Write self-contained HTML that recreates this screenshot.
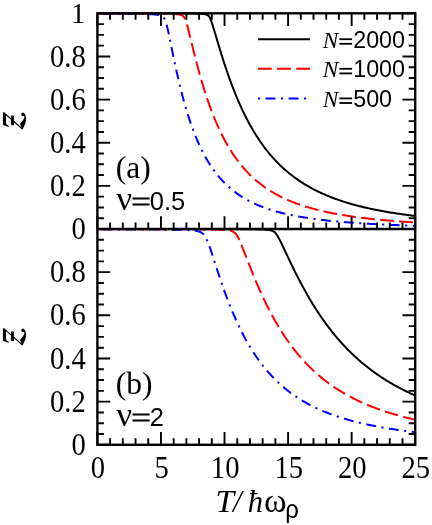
<!DOCTYPE html>
<html><head><meta charset="utf-8"><title>fugacity</title>
<style>html,body{margin:0;padding:0;background:#fff;}body{width:432px;height:525px;overflow:hidden;font-family:"Liberation Sans",sans-serif;}svg{display:block;will-change:transform;}</style>
</head><body>
<svg width="432" height="525" viewBox="0 0 432 525">
<rect x="0" y="0" width="432" height="525" fill="#fff"/>
<defs><clipPath id="ca"><rect x="97.4" y="12.100000000000001" width="318.79999999999995" height="218.1"/></clipPath><clipPath id="cb"><rect x="97.4" y="227.8" width="318.79999999999995" height="218.20000000000002"/></clipPath></defs>
<g clip-path="url(#ca)" fill="none" stroke-width="2.0" stroke-linejoin="round">
<path d="M97.40,13.41 L180.03,13.49 L180.66,13.49 L181.30,13.49 L181.93,13.50 L182.57,13.50 L183.21,13.50 L183.84,13.51 L184.48,13.51 L185.11,13.52 L185.75,13.52 L186.38,13.53 L187.02,13.53 L187.66,13.54 L188.29,13.54 L188.93,13.55 L189.56,13.55 L190.20,13.56 L190.83,13.57 L191.47,13.58 L192.10,13.59 L192.74,13.59 L193.38,13.60 L194.01,13.61 L194.65,13.63 L195.28,13.64 L195.92,13.65 L196.55,13.67 L197.19,13.68 L197.82,13.70 L198.46,13.72 L199.10,13.75 L199.73,13.77 L200.37,13.80 L201.00,13.83 L201.64,13.87 L202.27,13.92 L202.91,13.97 L203.55,14.03 L204.18,14.11 L204.82,14.20 L205.45,14.32 L206.09,14.47 L206.72,14.68 L207.36,14.95 L207.99,15.34 L208.63,15.91 L209.27,16.71 L209.90,17.81 L210.54,19.20 L211.17,20.85 L211.81,22.67 L212.44,24.62 L213.08,26.65 L213.71,28.73 L214.35,30.84 L214.99,32.97 L215.62,35.12 L216.26,37.26 L216.89,39.41 L217.53,41.54 L218.16,43.67 L218.80,45.79 L219.44,47.89 L220.07,49.98 L220.71,52.05 L221.34,54.10 L221.98,56.14 L222.61,58.15 L223.25,60.14 L223.88,62.12 L224.52,64.07 L225.16,66.00 L225.79,67.90 L226.43,69.79 L227.06,71.65 L227.70,73.49 L228.33,75.31 L228.97,77.11 L229.60,78.88 L230.24,80.64 L230.88,82.37 L231.51,84.07 L232.15,85.76 L232.78,87.42 L233.42,89.07 L234.05,90.69 L234.69,92.29 L235.33,93.86 L235.96,95.42 L236.60,96.96 L237.23,98.48 L237.87,99.97 L238.50,101.45 L239.14,102.90 L239.77,104.34 L240.41,105.76 L241.05,107.16 L241.68,108.54 L242.32,109.90 L242.95,111.24 L243.59,112.56 L244.22,113.87 L244.86,115.16 L245.49,116.43 L246.13,117.68 L246.77,118.92 L247.40,120.14 L248.04,121.35 L248.67,122.53 L249.31,123.70 L249.94,124.86 L250.58,126.00 L251.22,127.12 L251.85,128.23 L252.49,129.33 L253.12,130.41 L253.76,131.47 L254.39,132.52 L255.03,133.56 L255.66,134.58 L256.30,135.59 L257.57,137.57 L258.90,139.57 L260.22,141.52 L261.55,143.42 L262.87,145.27 L264.19,147.06 L265.52,148.81 L266.84,150.51 L268.17,152.16 L269.49,153.77 L270.82,155.34 L272.14,156.86 L273.47,158.35 L274.79,159.79 L276.12,161.20 L277.44,162.57 L278.76,163.91 L280.09,165.21 L281.41,166.48 L282.74,167.71 L284.06,168.92 L285.39,170.09 L286.71,171.23 L288.04,172.35 L289.36,173.44 L290.69,174.50 L292.01,175.53 L293.34,176.54 L294.66,177.53 L295.98,178.49 L297.31,179.42 L298.63,180.34 L299.96,181.23 L301.28,182.10 L302.61,182.95 L303.93,183.79 L305.26,184.60 L306.58,185.39 L307.91,186.16 L309.23,186.92 L310.56,187.66 L311.88,188.38 L313.20,189.09 L314.53,189.78 L315.85,190.45 L317.18,191.11 L318.50,191.75 L319.83,192.38 L321.15,193.00 L322.48,193.60 L323.80,194.19 L325.13,194.77 L326.45,195.33 L327.78,195.88 L329.10,196.42 L330.42,196.95 L331.75,197.47 L333.07,197.97 L334.40,198.47 L335.72,198.95 L337.05,199.43 L338.37,199.90 L339.70,200.35 L341.02,200.80 L342.35,201.23 L343.67,201.66 L345.00,202.08 L346.32,202.49 L347.64,202.90 L348.97,203.29 L350.29,203.68 L351.62,204.06 L352.94,204.43 L354.27,204.79 L355.59,205.15 L356.92,205.50 L358.24,205.85 L359.57,206.18 L360.89,206.51 L362.22,206.84 L363.54,207.16 L364.86,207.47 L366.19,207.77 L367.51,208.07 L368.84,208.37 L370.16,208.66 L371.49,208.94 L372.81,209.22 L374.14,209.50 L375.46,209.76 L376.79,210.03 L378.11,210.29 L379.44,210.54 L380.76,210.79 L382.08,211.04 L383.41,211.28 L384.73,211.52 L386.06,211.75 L387.38,211.98 L388.71,212.20 L390.03,212.42 L391.36,212.64 L392.68,212.85 L394.01,213.06 L395.33,213.27 L396.66,213.47 L397.98,213.67 L399.30,213.86 L400.63,214.06 L401.95,214.25 L403.28,214.43 L404.60,214.61 L405.93,214.79 L407.25,214.97 L408.58,215.14 L409.90,215.32 L411.23,215.48 L412.55,215.65 L413.88,215.81 L415.20,215.97" stroke="#000"/>
<path d="M97.40,13.52 L154.60,13.61 L155.24,13.62 L155.88,13.62 L156.51,13.63 L157.15,13.63 L157.78,13.64 L158.42,13.64 L159.05,13.65 L159.69,13.66 L160.32,13.66 L160.96,13.67 L161.60,13.68 L162.23,13.68 L162.87,13.69 L163.50,13.70 L164.14,13.71 L164.77,13.72 L165.41,13.73 L166.04,13.74 L166.68,13.75 L167.32,13.77 L167.95,13.78 L168.59,13.80 L169.22,13.81 L169.86,13.83 L170.49,13.85 L171.13,13.87 L171.77,13.89 L172.40,13.92 L173.04,13.95 L173.67,13.98 L174.31,14.01 L174.94,14.05 L175.58,14.09 L176.21,14.14 L176.85,14.20 L177.49,14.27 L178.12,14.35 L178.76,14.44 L179.39,14.55 L180.03,14.69 L180.66,14.85 L181.30,15.07 L181.93,15.35 L182.57,15.72 L183.21,16.22 L183.84,16.92 L184.48,17.87 L185.11,19.15 L185.75,20.76 L186.38,22.67 L187.02,24.82 L187.66,27.14 L188.29,29.57 L188.93,32.08 L189.56,34.64 L190.20,37.23 L190.83,39.83 L191.47,42.43 L192.10,45.03 L192.74,47.61 L193.38,50.18 L194.01,52.73 L194.65,55.25 L195.28,57.75 L195.92,60.22 L196.55,62.66 L197.19,65.08 L197.82,67.46 L198.46,69.81 L199.10,72.12 L199.73,74.40 L200.37,76.65 L201.00,78.87 L201.64,81.05 L202.27,83.20 L202.91,85.32 L203.55,87.40 L204.18,89.45 L204.82,91.47 L205.45,93.45 L206.09,95.40 L206.72,97.33 L207.36,99.21 L207.99,101.07 L208.63,102.90 L209.27,104.70 L209.90,106.46 L210.54,108.20 L211.17,109.91 L211.81,111.59 L212.44,113.24 L213.08,114.87 L213.71,116.46 L214.35,118.03 L214.99,119.58 L215.62,121.09 L216.26,122.58 L216.89,124.05 L217.53,125.49 L218.16,126.91 L218.80,128.30 L219.44,129.67 L220.07,131.02 L220.71,132.35 L221.34,133.65 L221.98,134.93 L222.61,136.19 L223.25,137.43 L223.88,138.65 L224.52,139.84 L225.16,141.02 L225.79,142.18 L226.43,143.32 L227.06,144.44 L227.70,145.54 L228.33,146.63 L228.97,147.69 L229.60,148.74 L230.24,149.77 L230.88,150.79 L232.15,152.77 L233.69,155.08 L235.22,157.30 L236.76,159.44 L238.30,161.50 L239.84,163.48 L241.38,165.39 L242.92,167.22 L244.45,168.99 L245.99,170.69 L247.53,172.33 L249.07,173.91 L250.61,175.44 L252.14,176.91 L253.68,178.33 L255.22,179.69 L256.76,181.01 L258.30,182.29 L259.84,183.52 L261.37,184.71 L262.91,185.86 L264.45,186.97 L265.99,188.04 L267.53,189.08 L269.07,190.08 L270.60,191.05 L272.14,191.99 L273.68,192.90 L275.22,193.78 L276.76,194.63 L278.29,195.45 L279.83,196.25 L281.37,197.03 L282.91,197.78 L284.45,198.50 L285.99,199.21 L287.52,199.89 L289.06,200.56 L290.60,201.20 L292.14,201.82 L293.68,202.43 L295.22,203.02 L296.75,203.59 L298.29,204.15 L299.83,204.68 L301.37,205.21 L302.91,205.72 L304.45,206.21 L305.98,206.69 L307.52,207.16 L309.06,207.61 L310.60,208.06 L312.14,208.49 L313.67,208.90 L315.21,209.31 L316.75,209.71 L318.29,210.09 L319.83,210.47 L321.37,210.84 L322.90,211.19 L324.44,211.54 L325.98,211.88 L327.52,212.21 L329.06,212.53 L330.60,212.84 L332.13,213.15 L333.67,213.44 L335.21,213.74 L336.75,214.02 L338.29,214.29 L339.83,214.56 L341.36,214.83 L342.90,215.08 L344.44,215.34 L345.98,215.58 L347.52,215.82 L349.05,216.05 L350.59,216.28 L352.13,216.50 L353.67,216.72 L355.21,216.93 L356.75,217.14 L358.28,217.34 L359.82,217.54 L361.36,217.73 L362.90,217.92 L364.44,218.11 L365.98,218.29 L367.51,218.47 L369.05,218.64 L370.59,218.81 L372.13,218.98 L373.67,219.14 L375.21,219.30 L376.74,219.45 L378.28,219.61 L379.82,219.75 L381.36,219.90 L382.90,220.04 L384.43,220.18 L385.97,220.32 L387.51,220.45 L389.05,220.59 L390.59,220.71 L392.13,220.84 L393.66,220.96 L395.20,221.08 L396.74,221.20 L398.28,221.32 L399.82,221.43 L401.36,221.55 L402.89,221.66 L404.43,221.76 L405.97,221.87 L407.51,221.97 L409.05,222.07 L410.59,222.17 L412.12,222.27 L413.66,222.37 L415.20,222.46" stroke="#f00" stroke-dasharray="13.8 5.3" stroke-dashoffset="-57.20"/>
<path d="M97.40,13.73 L135.54,13.85 L136.17,13.86 L136.81,13.86 L137.44,13.87 L138.08,13.88 L138.71,13.89 L139.35,13.89 L139.99,13.90 L140.62,13.91 L141.26,13.92 L141.89,13.93 L142.53,13.95 L143.16,13.96 L143.80,13.97 L144.43,13.98 L145.07,14.00 L145.71,14.02 L146.34,14.03 L146.98,14.05 L147.61,14.07 L148.25,14.09 L148.88,14.11 L149.52,14.14 L150.15,14.16 L150.79,14.19 L151.43,14.23 L152.06,14.26 L152.70,14.30 L153.33,14.34 L153.97,14.39 L154.60,14.44 L155.24,14.50 L155.88,14.56 L156.51,14.64 L157.15,14.72 L157.78,14.82 L158.42,14.93 L159.05,15.07 L159.69,15.23 L160.32,15.42 L160.96,15.66 L161.60,15.96 L162.23,16.34 L162.87,16.82 L163.50,17.47 L164.14,18.32 L164.77,19.46 L165.41,20.94 L166.04,22.79 L166.68,25.00 L167.32,27.51 L167.95,30.24 L168.59,33.13 L169.22,36.13 L169.86,39.21 L170.49,42.31 L171.13,45.44 L171.77,48.57 L172.40,51.68 L173.04,54.78 L173.67,57.84 L174.31,60.88 L174.94,63.87 L175.58,66.82 L176.21,69.73 L176.85,72.60 L177.49,75.41 L178.12,78.18 L178.76,80.90 L179.39,83.57 L180.03,86.20 L180.66,88.77 L181.30,91.29 L181.93,93.76 L182.57,96.19 L183.21,98.57 L183.84,100.90 L184.48,103.18 L185.11,105.41 L185.75,107.60 L186.38,109.75 L187.02,111.85 L187.66,113.91 L188.29,115.92 L188.93,117.90 L189.56,119.83 L190.20,121.72 L190.83,123.57 L191.47,125.38 L192.10,127.16 L192.74,128.90 L193.38,130.60 L194.01,132.27 L194.65,133.90 L195.28,135.50 L195.92,137.07 L196.55,138.60 L197.19,140.10 L197.82,141.57 L198.46,143.01 L199.10,144.42 L199.73,145.80 L200.37,147.16 L201.00,148.48 L201.64,149.78 L202.27,151.05 L202.91,152.30 L203.55,153.52 L204.18,154.72 L204.82,155.89 L205.45,157.04 L206.09,158.16 L206.72,159.27 L207.36,160.35 L207.99,161.41 L208.63,162.45 L209.27,163.47 L209.90,164.47 L210.54,165.45 L211.17,166.41 L211.81,167.35 L213.08,169.18 L214.78,171.52 L216.48,173.74 L218.17,175.85 L219.87,177.86 L221.57,179.77 L223.27,181.59 L224.97,183.32 L226.67,184.97 L228.37,186.54 L230.06,188.05 L231.76,189.48 L233.46,190.84 L235.16,192.15 L236.86,193.40 L238.56,194.59 L240.26,195.73 L241.95,196.82 L243.65,197.87 L245.35,198.87 L247.05,199.83 L248.75,200.75 L250.45,201.63 L252.14,202.48 L253.84,203.29 L255.54,204.07 L257.24,204.82 L258.94,205.53 L260.64,206.22 L262.34,206.89 L264.03,207.53 L265.73,208.14 L267.43,208.73 L269.13,209.30 L270.83,209.85 L272.53,210.38 L274.22,210.89 L275.92,211.38 L277.62,211.86 L279.32,212.31 L281.02,212.75 L282.72,213.18 L284.42,213.59 L286.11,213.99 L287.81,214.37 L289.51,214.74 L291.21,215.10 L292.91,215.45 L294.61,215.78 L296.31,216.11 L298.00,216.42 L299.70,216.72 L301.40,217.02 L303.10,217.30 L304.80,217.58 L306.50,217.84 L308.19,218.10 L309.89,218.36 L311.59,218.60 L313.29,218.83 L314.99,219.06 L316.69,219.29 L318.39,219.50 L320.08,219.71 L321.78,219.91 L323.48,220.11 L325.18,220.30 L326.88,220.49 L328.58,220.67 L330.28,220.85 L331.97,221.02 L333.67,221.18 L335.37,221.35 L337.07,221.50 L338.77,221.66 L340.47,221.81 L342.16,221.95 L343.86,222.09 L345.56,222.23 L347.26,222.36 L348.96,222.49 L350.66,222.62 L352.36,222.74 L354.05,222.86 L355.75,222.98 L357.45,223.09 L359.15,223.21 L360.85,223.32 L362.55,223.42 L364.25,223.52 L365.94,223.63 L367.64,223.72 L369.34,223.82 L371.04,223.91 L372.74,224.01 L374.44,224.09 L376.13,224.18 L377.83,224.27 L379.53,224.35 L381.23,224.43 L382.93,224.51 L384.63,224.59 L386.33,224.66 L388.02,224.74 L389.72,224.81 L391.42,224.88 L393.12,224.95 L394.82,225.02 L396.52,225.08 L398.22,225.15 L399.91,225.21 L401.61,225.27 L403.31,225.33 L405.01,225.39 L406.71,225.45 L408.41,225.51 L410.10,225.56 L411.80,225.62 L413.50,225.67 L415.20,225.72" stroke="#00f" stroke-dasharray="2.1 5.5 9.9 5.5" stroke-dashoffset="-44.14"/>
</g>
<g clip-path="url(#cb)" fill="none" stroke-width="2.0" stroke-linejoin="round">
<path d="M97.40,229.11 L224.52,229.18 L225.16,229.18 L225.79,229.18 L226.43,229.18 L227.06,229.18 L227.70,229.19 L228.33,229.19 L228.97,229.19 L229.60,229.19 L230.24,229.19 L230.88,229.20 L231.51,229.20 L232.15,229.20 L232.78,229.20 L233.42,229.20 L234.05,229.21 L234.69,229.21 L235.33,229.21 L235.96,229.21 L236.60,229.22 L237.23,229.22 L237.87,229.22 L238.50,229.23 L239.14,229.23 L239.77,229.23 L240.41,229.24 L241.05,229.24 L241.68,229.24 L242.32,229.25 L242.95,229.25 L243.59,229.25 L244.22,229.26 L244.86,229.26 L245.49,229.27 L246.13,229.27 L246.77,229.28 L247.40,229.28 L248.04,229.29 L248.67,229.29 L249.31,229.30 L249.94,229.31 L250.58,229.31 L251.22,229.32 L251.85,229.33 L252.49,229.34 L253.12,229.34 L253.76,229.35 L254.39,229.36 L255.03,229.37 L255.66,229.38 L256.30,229.39 L256.94,229.41 L257.57,229.42 L258.21,229.43 L258.84,229.45 L259.48,229.46 L260.11,229.48 L260.75,229.50 L261.38,229.52 L262.02,229.54 L262.66,229.57 L263.29,229.59 L263.93,229.62 L264.56,229.65 L265.20,229.69 L265.83,229.73 L266.47,229.78 L267.11,229.83 L267.74,229.89 L268.38,229.96 L269.01,230.04 L269.65,230.14 L270.28,230.25 L270.92,230.39 L271.55,230.56 L272.19,230.76 L272.83,231.02 L273.46,231.34 L274.10,231.75 L274.73,232.26 L275.37,232.89 L276.00,233.64 L276.64,234.50 L277.27,235.48 L277.91,236.54 L278.55,237.67 L279.18,238.86 L279.82,240.09 L280.45,241.35 L281.09,242.65 L281.72,243.95 L282.36,245.28 L283.00,246.61 L283.63,247.96 L284.27,249.30 L284.90,250.65 L285.54,252.01 L286.17,253.36 L286.81,254.71 L287.44,256.06 L288.08,257.40 L288.72,258.75 L289.35,260.08 L289.99,261.42 L290.62,262.74 L291.26,264.06 L291.89,265.38 L292.53,266.69 L293.16,267.99 L293.80,269.28 L294.44,270.57 L295.07,271.85 L295.71,273.12 L296.34,274.38 L296.98,275.64 L297.61,276.88 L298.25,278.12 L298.89,279.35 L299.52,280.57 L300.16,281.79 L300.79,282.99 L302.06,285.37 L303.01,287.13 L303.96,288.87 L304.92,290.59 L305.87,292.29 L306.82,293.97 L307.77,295.63 L308.72,297.27 L309.67,298.89 L310.62,300.49 L311.57,302.07 L312.52,303.63 L313.47,305.17 L314.42,306.70 L315.37,308.20 L316.32,309.69 L317.27,311.16 L318.23,312.61 L319.18,314.04 L320.13,315.45 L321.08,316.85 L322.03,318.22 L322.98,319.58 L323.93,320.93 L324.88,322.25 L325.83,323.56 L326.78,324.85 L327.73,326.13 L328.68,327.39 L329.63,328.63 L330.59,329.86 L331.54,331.07 L332.49,332.27 L333.44,333.45 L334.39,334.62 L335.34,335.77 L336.29,336.90 L337.24,338.03 L338.19,339.13 L339.14,340.23 L340.09,341.31 L341.04,342.37 L341.99,343.43 L342.94,344.47 L343.90,345.49 L344.85,346.50 L345.80,347.50 L346.75,348.49 L347.70,349.47 L348.65,350.43 L349.60,351.38 L350.55,352.32 L351.50,353.24 L352.45,354.16 L353.40,355.06 L354.35,355.96 L355.30,356.84 L356.25,357.71 L357.21,358.57 L358.16,359.41 L359.11,360.25 L360.06,361.08 L361.01,361.90 L361.96,362.70 L362.91,363.50 L363.86,364.29 L364.81,365.07 L365.76,365.84 L366.71,366.59 L367.66,367.34 L368.61,368.08 L369.56,368.82 L370.52,369.54 L371.47,370.25 L372.42,370.96 L373.37,371.65 L374.32,372.34 L375.27,373.02 L376.22,373.69 L377.17,374.36 L378.12,375.01 L379.07,375.66 L380.02,376.30 L380.97,376.93 L381.92,377.56 L382.88,378.18 L383.83,378.79 L384.78,379.39 L385.73,379.99 L386.68,380.58 L387.63,381.16 L388.58,381.73 L389.53,382.30 L390.48,382.87 L391.43,383.42 L392.38,383.97 L393.33,384.51 L394.28,385.05 L395.23,385.58 L396.19,386.11 L397.14,386.62 L398.09,387.14 L399.04,387.64 L399.99,388.14 L400.94,388.64 L401.89,389.13 L402.84,389.61 L403.79,390.09 L404.74,390.56 L405.69,391.03 L406.64,391.49 L407.59,391.95 L408.54,392.40 L409.50,392.85 L410.45,393.29 L411.40,393.73 L412.35,394.17 L413.30,394.59 L414.25,395.02 L415.20,395.43" stroke="#000"/>
<path d="M97.40,229.22 L192.74,229.34 L193.38,229.34 L194.01,229.34 L194.65,229.35 L195.28,229.35 L195.92,229.35 L196.55,229.36 L197.19,229.36 L197.82,229.37 L198.46,229.37 L199.10,229.38 L199.73,229.38 L200.37,229.38 L201.00,229.39 L201.64,229.40 L202.27,229.40 L202.91,229.41 L203.55,229.41 L204.18,229.42 L204.82,229.43 L205.45,229.43 L206.09,229.44 L206.72,229.45 L207.36,229.45 L207.99,229.46 L208.63,229.47 L209.27,229.48 L209.90,229.49 L210.54,229.50 L211.17,229.51 L211.81,229.52 L212.44,229.53 L213.08,229.54 L213.71,229.56 L214.35,229.57 L214.99,229.58 L215.62,229.60 L216.26,229.61 L216.89,229.63 L217.53,229.65 L218.16,229.67 L218.80,229.69 L219.44,229.71 L220.07,229.74 L220.71,229.76 L221.34,229.79 L221.98,229.82 L222.61,229.85 L223.25,229.89 L223.88,229.93 L224.52,229.97 L225.16,230.02 L225.79,230.07 L226.43,230.13 L227.06,230.20 L227.70,230.28 L228.33,230.36 L228.97,230.46 L229.60,230.57 L230.24,230.71 L230.88,230.86 L231.51,231.05 L232.15,231.27 L232.78,231.53 L233.42,231.86 L234.05,232.26 L234.69,232.74 L235.33,233.34 L235.96,234.06 L236.60,234.91 L237.23,235.90 L237.87,237.01 L238.50,238.24 L239.14,239.56 L239.77,240.96 L240.41,242.42 L241.05,243.94 L241.68,245.49 L242.32,247.06 L242.95,248.66 L243.59,250.28 L244.22,251.91 L244.86,253.54 L245.49,255.18 L246.13,256.82 L246.77,258.46 L247.40,260.09 L248.04,261.73 L248.67,263.35 L249.31,264.97 L249.94,266.59 L250.58,268.19 L251.22,269.78 L251.85,271.37 L252.49,272.94 L253.12,274.51 L253.76,276.06 L254.39,277.60 L255.03,279.13 L255.66,280.65 L256.30,282.15 L256.94,283.65 L257.57,285.12 L258.21,286.59 L258.84,288.04 L259.48,289.49 L260.11,290.91 L260.75,292.33 L261.38,293.73 L262.02,295.12 L262.66,296.49 L263.29,297.85 L263.93,299.20 L264.56,300.53 L265.20,301.85 L265.83,303.16 L266.47,304.46 L267.11,305.74 L267.74,307.01 L268.38,308.27 L269.01,309.51 L270.28,311.96 L271.50,314.26 L272.72,316.51 L273.94,318.72 L275.15,320.88 L276.37,323.00 L277.59,325.08 L278.81,327.12 L280.03,329.11 L281.24,331.07 L282.46,332.98 L283.68,334.86 L284.90,336.70 L286.11,338.50 L287.33,340.26 L288.55,341.99 L289.77,343.69 L290.99,345.34 L292.20,346.97 L293.42,348.56 L294.64,350.12 L295.86,351.65 L297.07,353.15 L298.29,354.62 L299.51,356.06 L300.73,357.47 L301.95,358.85 L303.16,360.21 L304.38,361.54 L305.60,362.84 L306.82,364.12 L308.03,365.37 L309.25,366.59 L310.47,367.80 L311.69,368.98 L312.91,370.13 L314.12,371.27 L315.34,372.38 L316.56,373.47 L317.78,374.54 L318.99,375.59 L320.21,376.62 L321.43,377.63 L322.65,378.62 L323.87,379.59 L325.08,380.54 L326.30,381.48 L327.52,382.40 L328.74,383.30 L329.95,384.18 L331.17,385.05 L332.39,385.90 L333.61,386.74 L334.83,387.56 L336.04,388.37 L337.26,389.16 L338.48,389.93 L339.70,390.70 L340.91,391.45 L342.13,392.18 L343.35,392.91 L344.57,393.62 L345.79,394.31 L347.00,395.00 L348.22,395.67 L349.44,396.33 L350.66,396.98 L351.88,397.62 L353.09,398.25 L354.31,398.86 L355.53,399.47 L356.75,400.06 L357.96,400.65 L359.18,401.23 L360.40,401.79 L361.62,402.35 L362.84,402.89 L364.05,403.43 L365.27,403.96 L366.49,404.48 L367.71,404.99 L368.92,405.49 L370.14,405.99 L371.36,406.47 L372.58,406.95 L373.80,407.42 L375.01,407.88 L376.23,408.34 L377.45,408.79 L378.67,409.23 L379.88,409.66 L381.10,410.09 L382.32,410.51 L383.54,410.92 L384.76,411.33 L385.97,411.73 L387.19,412.12 L388.41,412.51 L389.63,412.89 L390.84,413.27 L392.06,413.64 L393.28,414.00 L394.50,414.36 L395.72,414.72 L396.93,415.06 L398.15,415.41 L399.37,415.74 L400.59,416.08 L401.80,416.40 L403.02,416.73 L404.24,417.04 L405.46,417.36 L406.68,417.67 L407.89,417.97 L409.11,418.27 L410.33,418.56 L411.55,418.85 L412.76,419.14 L413.98,419.42 L415.20,419.70" stroke="#f00" stroke-dasharray="13.8 5.3" stroke-dashoffset="-94.54"/>
<path d="M97.40,229.43 L167.32,229.63 L167.95,229.63 L168.59,229.64 L169.22,229.65 L169.86,229.66 L170.49,229.66 L171.13,229.67 L171.77,229.68 L172.40,229.69 L173.04,229.70 L173.67,229.71 L174.31,229.72 L174.94,229.73 L175.58,229.74 L176.21,229.75 L176.85,229.77 L177.49,229.78 L178.12,229.79 L178.76,229.81 L179.39,229.82 L180.03,229.84 L180.66,229.85 L181.30,229.87 L181.93,229.89 L182.57,229.91 L183.21,229.93 L183.84,229.95 L184.48,229.97 L185.11,230.00 L185.75,230.02 L186.38,230.05 L187.02,230.08 L187.66,230.11 L188.29,230.15 L188.93,230.18 L189.56,230.22 L190.20,230.26 L190.83,230.31 L191.47,230.36 L192.10,230.42 L192.74,230.47 L193.38,230.54 L194.01,230.61 L194.65,230.69 L195.28,230.78 L195.92,230.88 L196.55,230.99 L197.19,231.12 L197.82,231.26 L198.46,231.42 L199.10,231.61 L199.73,231.83 L200.37,232.09 L201.00,232.39 L201.64,232.75 L202.27,233.18 L202.91,233.69 L203.55,234.31 L204.18,235.04 L204.82,235.91 L205.45,236.93 L206.09,238.09 L206.72,239.40 L207.36,240.85 L207.99,242.41 L208.63,244.07 L209.27,245.81 L209.90,247.62 L210.54,249.47 L211.17,251.36 L211.81,253.29 L212.44,255.23 L213.08,257.19 L213.71,259.16 L214.35,261.13 L214.99,263.10 L215.62,265.07 L216.26,267.03 L216.89,268.98 L217.53,270.93 L218.16,272.86 L218.80,274.78 L219.44,276.68 L220.07,278.58 L220.71,280.45 L221.34,282.31 L221.98,284.15 L222.61,285.97 L223.25,287.78 L223.88,289.56 L224.52,291.33 L225.16,293.08 L225.79,294.81 L226.43,296.52 L227.06,298.21 L227.70,299.88 L228.33,301.53 L228.97,303.16 L229.60,304.77 L230.24,306.36 L230.88,307.93 L231.51,309.49 L232.15,311.02 L232.78,312.54 L233.42,314.03 L234.05,315.51 L234.69,316.97 L235.33,318.41 L235.96,319.83 L236.60,321.23 L237.23,322.61 L237.87,323.98 L238.50,325.33 L239.14,326.66 L239.77,327.97 L240.41,329.27 L241.05,330.55 L241.68,331.81 L242.32,333.06 L242.95,334.29 L243.59,335.50 L244.86,337.88 L246.29,340.49 L247.72,343.02 L249.15,345.47 L250.58,347.85 L252.02,350.16 L253.45,352.41 L254.88,354.59 L256.31,356.70 L257.74,358.75 L259.17,360.75 L260.60,362.68 L262.04,364.56 L263.47,366.39 L264.90,368.16 L266.33,369.89 L267.76,371.56 L269.19,373.19 L270.63,374.77 L272.06,376.31 L273.49,377.80 L274.92,379.25 L276.35,380.66 L277.78,382.04 L279.21,383.37 L280.65,384.67 L282.08,385.94 L283.51,387.17 L284.94,388.36 L286.37,389.53 L287.80,390.66 L289.23,391.77 L290.67,392.84 L292.10,393.89 L293.53,394.91 L294.96,395.90 L296.39,396.87 L297.82,397.81 L299.25,398.73 L300.69,399.63 L302.12,400.50 L303.55,401.35 L304.98,402.18 L306.41,402.99 L307.84,403.78 L309.27,404.55 L310.71,405.30 L312.14,406.04 L313.57,406.75 L315.00,407.45 L316.43,408.13 L317.86,408.80 L319.29,409.45 L320.73,410.08 L322.16,410.70 L323.59,411.30 L325.02,411.89 L326.45,412.47 L327.88,413.04 L329.31,413.59 L330.75,414.13 L332.18,414.65 L333.61,415.17 L335.04,415.67 L336.47,416.16 L337.90,416.64 L339.33,417.11 L340.77,417.57 L342.20,418.02 L343.63,418.46 L345.06,418.89 L346.49,419.32 L347.92,419.73 L349.35,420.13 L350.79,420.53 L352.22,420.92 L353.65,421.29 L355.08,421.66 L356.51,422.03 L357.94,422.38 L359.37,422.73 L360.81,423.07 L362.24,423.41 L363.67,423.74 L365.10,424.06 L366.53,424.37 L367.96,424.68 L369.39,424.98 L370.83,425.28 L372.26,425.57 L373.69,425.85 L375.12,426.13 L376.55,426.41 L377.98,426.67 L379.41,426.94 L380.85,427.20 L382.28,427.45 L383.71,427.70 L385.14,427.94 L386.57,428.18 L388.00,428.42 L389.43,428.65 L390.87,428.87 L392.30,429.09 L393.73,429.31 L395.16,429.53 L396.59,429.74 L398.02,429.94 L399.45,430.14 L400.89,430.34 L402.32,430.54 L403.75,430.73 L405.18,430.92 L406.61,431.10 L408.04,431.29 L409.47,431.46 L410.91,431.64 L412.34,431.81 L413.77,431.98 L415.20,432.15" stroke="#00f" stroke-dasharray="2.1 5.5 9.9 5.5" stroke-dashoffset="-89.92"/>
</g>
<path d="M97.40,13.3 v12.8 M97.40,229.0 v-12.8 M97.40,444.8 v-12.8 M110.11,13.3 v6.5 M110.11,229.0 v-6.5 M110.11,444.8 v-6.5 M122.82,13.3 v6.5 M122.82,229.0 v-6.5 M122.82,444.8 v-6.5 M135.54,13.3 v6.5 M135.54,229.0 v-6.5 M135.54,444.8 v-6.5 M148.25,13.3 v6.5 M148.25,229.0 v-6.5 M148.25,444.8 v-6.5 M160.96,13.3 v12.8 M160.96,229.0 v-12.8 M160.96,444.8 v-12.8 M173.67,13.3 v6.5 M173.67,229.0 v-6.5 M173.67,444.8 v-6.5 M186.38,13.3 v6.5 M186.38,229.0 v-6.5 M186.38,444.8 v-6.5 M199.10,13.3 v6.5 M199.10,229.0 v-6.5 M199.10,444.8 v-6.5 M211.81,13.3 v6.5 M211.81,229.0 v-6.5 M211.81,444.8 v-6.5 M224.52,13.3 v12.8 M224.52,229.0 v-12.8 M224.52,444.8 v-12.8 M237.23,13.3 v6.5 M237.23,229.0 v-6.5 M237.23,444.8 v-6.5 M249.94,13.3 v6.5 M249.94,229.0 v-6.5 M249.94,444.8 v-6.5 M262.66,13.3 v6.5 M262.66,229.0 v-6.5 M262.66,444.8 v-6.5 M275.37,13.3 v6.5 M275.37,229.0 v-6.5 M275.37,444.8 v-6.5 M288.08,13.3 v12.8 M288.08,229.0 v-12.8 M288.08,444.8 v-12.8 M300.79,13.3 v6.5 M300.79,229.0 v-6.5 M300.79,444.8 v-6.5 M313.50,13.3 v6.5 M313.50,229.0 v-6.5 M313.50,444.8 v-6.5 M326.22,13.3 v6.5 M326.22,229.0 v-6.5 M326.22,444.8 v-6.5 M338.93,13.3 v6.5 M338.93,229.0 v-6.5 M338.93,444.8 v-6.5 M351.64,13.3 v12.8 M351.64,229.0 v-12.8 M351.64,444.8 v-12.8 M364.35,13.3 v6.5 M364.35,229.0 v-6.5 M364.35,444.8 v-6.5 M377.06,13.3 v6.5 M377.06,229.0 v-6.5 M377.06,444.8 v-6.5 M389.78,13.3 v6.5 M389.78,229.0 v-6.5 M389.78,444.8 v-6.5 M402.49,13.3 v6.5 M402.49,229.0 v-6.5 M402.49,444.8 v-6.5 M415.20,13.3 v12.8 M415.20,229.0 v-12.8 M415.20,444.8 v-12.8 M97.4,229.00 h12.8 M415.2,229.00 h-12.8 M97.4,218.22 h6.5 M415.2,218.22 h-6.5 M97.4,207.43 h6.5 M415.2,207.43 h-6.5 M97.4,196.64 h6.5 M415.2,196.64 h-6.5 M97.4,185.86 h12.8 M415.2,185.86 h-12.8 M97.4,175.07 h6.5 M415.2,175.07 h-6.5 M97.4,164.29 h6.5 M415.2,164.29 h-6.5 M97.4,153.50 h6.5 M415.2,153.50 h-6.5 M97.4,142.72 h12.8 M415.2,142.72 h-12.8 M97.4,131.94 h6.5 M415.2,131.94 h-6.5 M97.4,121.15 h6.5 M415.2,121.15 h-6.5 M97.4,110.36 h6.5 M415.2,110.36 h-6.5 M97.4,99.58 h12.8 M415.2,99.58 h-12.8 M97.4,88.80 h6.5 M415.2,88.80 h-6.5 M97.4,78.01 h6.5 M415.2,78.01 h-6.5 M97.4,67.23 h6.5 M415.2,67.23 h-6.5 M97.4,56.44 h12.8 M415.2,56.44 h-12.8 M97.4,45.66 h6.5 M415.2,45.66 h-6.5 M97.4,34.87 h6.5 M415.2,34.87 h-6.5 M97.4,24.09 h6.5 M415.2,24.09 h-6.5 M97.4,13.30 h12.8 M415.2,13.30 h-12.8 M97.4,444.80 h12.8 M415.2,444.80 h-12.8 M97.4,434.01 h6.5 M415.2,434.01 h-6.5 M97.4,423.22 h6.5 M415.2,423.22 h-6.5 M97.4,412.43 h6.5 M415.2,412.43 h-6.5 M97.4,401.64 h12.8 M415.2,401.64 h-12.8 M97.4,390.85 h6.5 M415.2,390.85 h-6.5 M97.4,380.06 h6.5 M415.2,380.06 h-6.5 M97.4,369.27 h6.5 M415.2,369.27 h-6.5 M97.4,358.48 h12.8 M415.2,358.48 h-12.8 M97.4,347.69 h6.5 M415.2,347.69 h-6.5 M97.4,336.90 h6.5 M415.2,336.90 h-6.5 M97.4,326.11 h6.5 M415.2,326.11 h-6.5 M97.4,315.32 h12.8 M415.2,315.32 h-12.8 M97.4,304.53 h6.5 M415.2,304.53 h-6.5 M97.4,293.74 h6.5 M415.2,293.74 h-6.5 M97.4,282.95 h6.5 M415.2,282.95 h-6.5 M97.4,272.16 h12.8 M415.2,272.16 h-12.8 M97.4,261.37 h6.5 M415.2,261.37 h-6.5 M97.4,250.58 h6.5 M415.2,250.58 h-6.5 M97.4,239.79 h6.5 M415.2,239.79 h-6.5 M97.4,229.00 h12.8 M415.2,229.00 h-12.8" stroke="#000" stroke-width="1.9" fill="none"/>
<rect x="97.4" y="13.3" width="317.79999999999995" height="431.5" fill="none" stroke="#000" stroke-width="2.4"/>
<path d="M97.4,229.0 H415.2" stroke="#000" stroke-width="2.4"/>
<text transform="translate(85.40,23.20) scale(1,1.0165)" font-size="28.6" font-family="Liberation Serif, serif" text-anchor="end">1</text>
<text transform="translate(85.80,66.54) scale(1,1.07)" font-size="28.6" font-family="Liberation Serif, serif" text-anchor="end">0.8</text>
<text transform="translate(85.80,109.68) scale(1,1.07)" font-size="28.6" font-family="Liberation Serif, serif" text-anchor="end">0.6</text>
<text transform="translate(85.80,152.82) scale(1,1.07)" font-size="28.6" font-family="Liberation Serif, serif" text-anchor="end">0.4</text>
<text transform="translate(85.80,195.96) scale(1,1.07)" font-size="28.6" font-family="Liberation Serif, serif" text-anchor="end">0.2</text>
<text transform="translate(85.80,239.10) scale(1,1.07)" font-size="28.6" font-family="Liberation Serif, serif" text-anchor="end">0</text>
<text transform="translate(85.80,282.26) scale(1,1.07)" font-size="28.6" font-family="Liberation Serif, serif" text-anchor="end">0.8</text>
<text transform="translate(85.80,325.42) scale(1,1.07)" font-size="28.6" font-family="Liberation Serif, serif" text-anchor="end">0.6</text>
<text transform="translate(85.80,368.58) scale(1,1.07)" font-size="28.6" font-family="Liberation Serif, serif" text-anchor="end">0.4</text>
<text transform="translate(85.80,411.74) scale(1,1.07)" font-size="28.6" font-family="Liberation Serif, serif" text-anchor="end">0.2</text>
<text transform="translate(85.80,454.90) scale(1,1.07)" font-size="28.6" font-family="Liberation Serif, serif" text-anchor="end">0</text>
<text transform="translate(98.00,477.90) scale(1,1.07)" font-size="28.6" font-family="Liberation Serif, serif" text-anchor="middle">0</text>
<text transform="translate(161.56,477.90) scale(1,1.07)" font-size="28.6" font-family="Liberation Serif, serif" text-anchor="middle">5</text>
<text transform="translate(225.12,477.90) scale(1,1.07)" font-size="28.6" font-family="Liberation Serif, serif" text-anchor="middle">10</text>
<text transform="translate(288.68,477.90) scale(1,1.07)" font-size="28.6" font-family="Liberation Serif, serif" text-anchor="middle">15</text>
<text transform="translate(352.24,477.90) scale(1,1.07)" font-size="28.6" font-family="Liberation Serif, serif" text-anchor="middle">20</text>
<text transform="translate(415.80,477.90) scale(1,1.07)" font-size="28.6" font-family="Liberation Serif, serif" text-anchor="middle">25</text>
<text transform="translate(215.50,511.50) scale(1.08,1)" font-size="30.8" font-family="Liberation Serif, serif" font-style="italic" text-anchor="start">T</text>
<text transform="translate(233.00,511.50)" font-size="30.8" font-family="Liberation Serif, serif" font-style="italic" text-anchor="start">/</text>
<text transform="translate(247.70,511.50)" font-size="30.5" font-family="Liberation Serif, serif" font-style="italic" text-anchor="start">ħ</text>
<text transform="translate(264.00,511.50)" font-size="34.4" font-family="Liberation Serif, serif" text-anchor="start">ω</text>
<text transform="translate(285.30,517.70) scale(0.92,1)" font-size="26" font-family="Liberation Sans, sans-serif" text-anchor="start">ρ</text>
<text transform="translate(115.80,178.30)" font-size="31.5" font-family="Liberation Serif, serif" text-anchor="start">(a)</text>
<text transform="translate(116.40,209.60)" font-size="34.5" font-family="Liberation Serif, serif" text-anchor="start">ν</text>
<rect x="132.5" y="197.50" width="17.10" height="2.0" fill="#000"/><rect x="132.5" y="203.50" width="17.10" height="2.0" fill="#000"/>
<text transform="translate(149.80,209.60)" font-size="25.5" font-family="Liberation Sans, sans-serif" text-anchor="start">0.5</text>
<text transform="translate(115.80,394.30)" font-size="31.5" font-family="Liberation Serif, serif" text-anchor="start">(b)</text>
<text transform="translate(116.40,425.60)" font-size="34.5" font-family="Liberation Serif, serif" text-anchor="start">ν</text>
<rect x="132.5" y="413.50" width="17.10" height="2.0" fill="#000"/><rect x="132.5" y="419.50" width="17.10" height="2.0" fill="#000"/>
<text transform="translate(149.80,425.60)" font-size="25.5" font-family="Liberation Sans, sans-serif" text-anchor="start">2</text>
<path d="M258,39.2 H310" stroke="#000" stroke-width="2.0" fill="none"/>
<text transform="translate(322.80,47.80)" font-size="23.3" font-family="Liberation Serif, serif" font-style="italic" text-anchor="start">N</text>
<rect x="339.4" y="38.30" width="12.70" height="1.8" fill="#000"/><rect x="339.4" y="42.90" width="12.70" height="1.8" fill="#000"/>
<text transform="translate(353.20,47.80)" font-size="23.3" font-family="Liberation Sans, sans-serif" text-anchor="start">2000</text>
<path d="M258,68.8 H310" stroke="#f00" stroke-width="2.0" stroke-dasharray="13.8 5.3" fill="none"/>
<text transform="translate(322.80,77.40)" font-size="23.3" font-family="Liberation Serif, serif" font-style="italic" text-anchor="start">N</text>
<rect x="339.4" y="67.90" width="12.70" height="1.8" fill="#000"/><rect x="339.4" y="72.50" width="12.70" height="1.8" fill="#000"/>
<text transform="translate(353.20,77.40)" font-size="23.3" font-family="Liberation Sans, sans-serif" text-anchor="start">1000</text>
<path d="M258,98.4 H310" stroke="#00f" stroke-width="2.0" stroke-dasharray="2.1 5.5 9.9 5.5" fill="none"/>
<text transform="translate(322.80,107.00)" font-size="23.3" font-family="Liberation Serif, serif" font-style="italic" text-anchor="start">N</text>
<rect x="339.4" y="97.50" width="12.70" height="1.8" fill="#000"/><rect x="339.4" y="102.10" width="12.70" height="1.8" fill="#000"/>
<text transform="translate(353.20,107.00)" font-size="23.3" font-family="Liberation Sans, sans-serif" text-anchor="start">500</text>
<g fill="#000" stroke="none"><path d="M2.9,112.0 L6.0,114.8 L6.1,124.0 L8.9,125.9 L8.7,126.9 L2.9,125.1 Z"/><path d="M3.3,112.9 L4.0,112.1 L22.8,128.6 L22.1,129.5 Z"/><rect x="11.1" y="115.6" width="2.9" height="9.6"/><path d="M22.6,129.5 C24.6,125 26.5,121.5 26.1,118.5 C25.9,116 25.3,113.9 24.0,113.0 A1.8,1.8 0 1 0 23.2,116.3 C24.0,115.8 24.6,116.4 24.4,117.3 C23.8,119.8 21.8,121.6 20.0,124.2 L22.0,128.6 Z"/></g>
<g transform="translate(0,215.9)"><g fill="#000" stroke="none"><path d="M2.9,112.0 L6.0,114.8 L6.1,124.0 L8.9,125.9 L8.7,126.9 L2.9,125.1 Z"/><path d="M3.3,112.9 L4.0,112.1 L22.8,128.6 L22.1,129.5 Z"/><rect x="11.1" y="115.6" width="2.9" height="9.6"/><path d="M22.6,129.5 C24.6,125 26.5,121.5 26.1,118.5 C25.9,116 25.3,113.9 24.0,113.0 A1.8,1.8 0 1 0 23.2,116.3 C24.0,115.8 24.6,116.4 24.4,117.3 C23.8,119.8 21.8,121.6 20.0,124.2 L22.0,128.6 Z"/></g></g>
</svg>
</body></html>
